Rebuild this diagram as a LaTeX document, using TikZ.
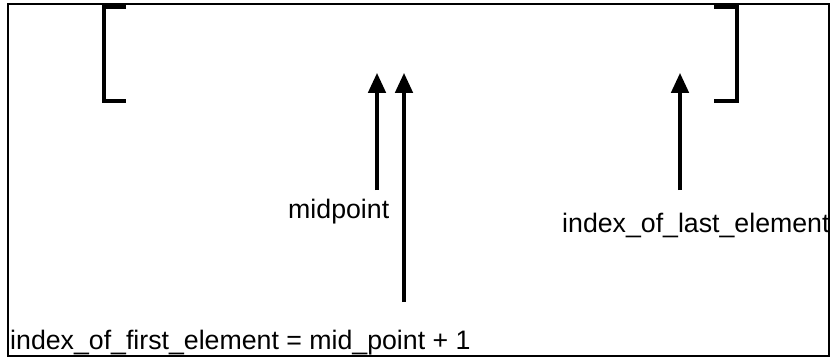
\documentclass[tikz,border=0pt]{standalone}
\usepackage{fontspec}
\setmainfont{Liberation Sans}
\usetikzlibrary{
    arrows.meta
}

\begin{document}
\begin{tikzpicture}[x=0.03cm,y=-0.03cm,
    label/.style={inner sep=0pt,anchor=base west,font=\fontsize{22.8}{26}\selectfont},
    bracket/.style={line width=2.6pt},
    pointer/.style={line width=2.6pt,-{Triangle[length=17pt,width=15pt]}}]

\useasboundingbox (0,0) rectangle (833,357);
\draw[line width=1.3pt] (8,4) rectangle (829,356);

% brackets
\draw[bracket] (126,7)--(104,7)--(104,101)--(126,101);
\draw[bracket] (714,7)--(737,7)--(737,101)--(714,101);

% labels
\node[label] (mid) at (288,218) {midpoint};
\node[label] (last) at (562,232) {index\_of\_last\_element};
\node[label] (first) at (10,349) {index\_of\_first\_element = mid\_point + 1};

\coordinate (midtail) at (377,190);
\coordinate (midtip) at (377,73);
\coordinate (firsttail) at (404,302);
\coordinate (firsttip) at (404,73);
\coordinate (lasttail) at (680,190);
\coordinate (lasttip) at (680,73);

\draw[pointer] (midtail)--(midtip);
\draw[pointer] (firsttail)--(firsttip);
\draw[pointer] (lasttail)--(lasttip);

\end{tikzpicture}
\end{document}
